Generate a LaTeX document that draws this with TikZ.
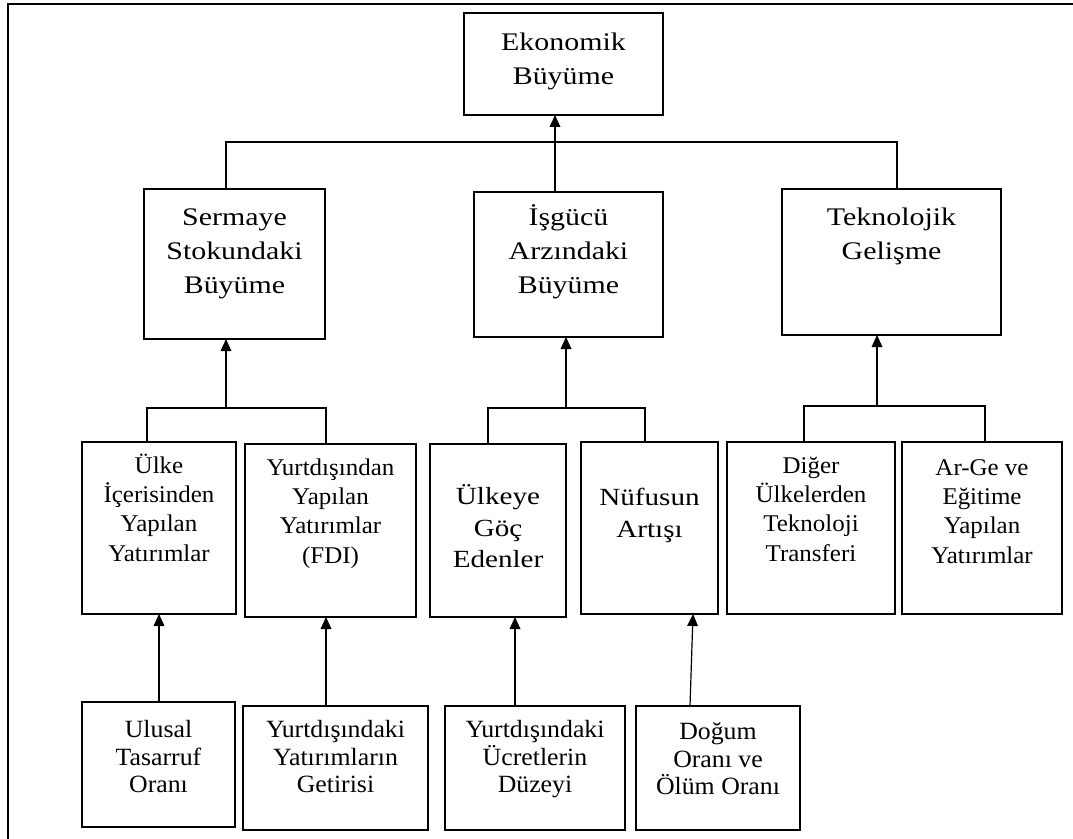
\documentclass[tikz,border=0pt]{standalone}
\usepackage{fontspec}
\setmainfont{Liberation Serif}[FakeStretch=1.04]
\newfontfamily\widefont{Liberation Serif}[FakeStretch=1.18]
\usepackage{tikz}
\usetikzlibrary{arrows.meta}

\newdimen\pxu \pxu=0.75pt
% box text: width, height, top gap (all in px), lines
\newcommand{\boxtext}[4]{\parbox[c][#2\pxu][t]{#1\pxu}{\centering\vspace*{#3\pxu}\rule{0pt}{1em}\ignorespaces#4\par}}

\tikzset{
  box/.style={draw, line width=1.2pt, inner sep=0pt, outer sep=0pt},
  toptext/.style={font=\widefont\fontsize{19}{25.5}\selectfont},
  widetext/.style={font=\widefont\fontsize{18.5}{23.5}\selectfont},
  midtext/.style={font=\fontsize{18}{22}\selectfont},
  lowtext/.style={font=\fontsize{18.6}{20.5}\selectfont},
  conn/.style={line width=0.9pt},
  arr/.style={conn, -{Triangle[length=9pt,width=8pt]}}
}

\begin{document}
\begin{tikzpicture}[x=0.75pt,y=0.75pt,yscale=-1,xscale=1]
\useasboundingbox (0,0) rectangle (1073,838);

%frame
\draw [line width=1.9pt] (8,850) -- (8,4) -- (1080,4) ;

% level 1
\node [box,toptext] (eb) at (563.5,64) {\boxtext{199}{102}{12}{Ekonomik\\Büyüme}};

% level 2
\node [box,toptext] (sb) at (234.5,264) {\boxtext{181}{150}{11}{Sermaye\\Stokundaki\\Büyüme}};
\node [box,toptext] (ib) at (568.5,264.5) {\boxtext{189}{145}{8}{İşgücü\\Arzındaki\\Büyüme}};
\node [box,toptext] (tb) at (891.5,262) {\boxtext{219}{146}{11}{Teknolojik\\Gelişme}};

% level 3
\node [box,midtext] (u1) at (159,528) {\boxtext{154}{172}{7}{Ülke\\İçerisinden\\Yapılan\\Yatırımlar}};
\node [box,midtext] (u2) at (330.5,530.5) {\boxtext{171}{173}{7}{Yurtdışından\\Yapılan\\Yatırımlar\\(FDI)}};
\node [box,widetext] (u3) at (498,530.5) {\boxtext{136}{173}{36}{Ülkeye\\Göç\\Edenler}};
\node [box,widetext] (u4) at (649.5,528) {\boxtext{137}{172}{39}{Nüfusun\\Artışı}};
\node [box,midtext] (u5) at (811,528) {\boxtext{168}{172}{7}{Diğer\\Ülkelerden\\Teknoloji\\Transferi}};
\node [box,midtext] (u6) at (982,528) {\boxtext{160}{172}{9}{Ar-Ge ve\\Eğitime\\Yapılan\\Yatırımlar}};

% level 4
\node [box,lowtext] (b1) at (158.5,764.5) {\boxtext{153}{125}{11}{Ulusal\\Tasarruf\\Oranı}};
\node [box,lowtext] (b2) at (335.5,768) {\boxtext{185}{124}{7}{Yurtdışındaki\\Yatırımların\\Getirisi}};
\node [box,lowtext] (b3) at (535,768) {\boxtext{180}{124}{7}{Yurtdışındaki\\Ücretlerin\\Düzeyi}};
\node [box,lowtext] (b4) at (718,768) {\boxtext{164}{124}{9}{Doğum\\Oranı ve\\Ölüm Oranı}};

% level 2 -> level 1
\draw [conn] (226,0 |- sb.north) -- (226,142) -- (897,142) -- (897,0 |- tb.north) ;
\draw [arr] (555,0 |- ib.north) -- (555,0 |- eb.south) ;

% level 3 -> level 2
\draw [conn] (147,0 |- u1.north) -- (147,408) -- (326,408) -- (326,0 |- u2.north) ;
\draw [arr] (226,408) -- (226,0 |- sb.south) ;
\draw [conn] (488,0 |- u3.north) -- (488,408) -- (645,408) -- (645,0 |- u4.north) ;
\draw [arr] (566,408) -- (566,0 |- ib.south) ;
\draw [conn] (804,0 |- u5.north) -- (804,406) -- (985,406) -- (985,0 |- u6.north) ;
\draw [arr] (877,406) -- (877,0 |- tb.south) ;

% level 4 -> level 3
\draw [arr] (159,0 |- b1.north) -- (159,0 |- u1.south) ;
\draw [arr] (326,0 |- b2.north) -- (326,0 |- u2.south) ;
\draw [arr] (515,0 |- b3.north) -- (515,0 |- u3.south) ;
\draw [arr] (690,0 |- b4.north) -- (693,0 |- u4.south) ;

\end{tikzpicture}
\end{document}
